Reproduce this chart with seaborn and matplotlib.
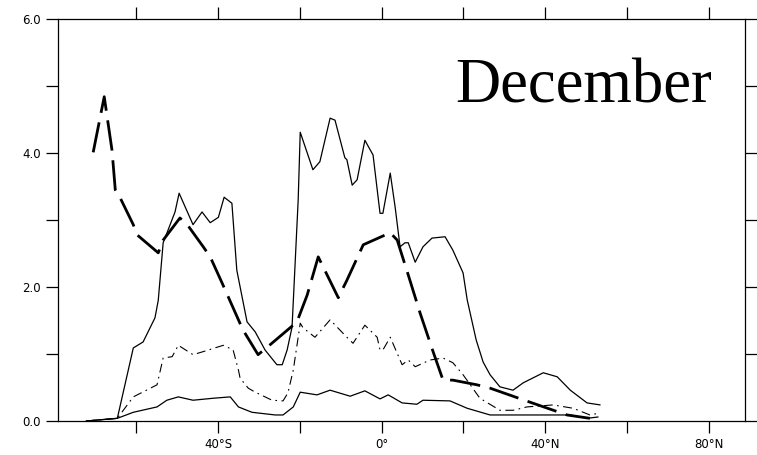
import matplotlib
matplotlib.use("Agg")
import matplotlib.pyplot as plt
import seaborn as sns

# latitude (deg, negative = south) and values
lat_thick = [-70.5, -67.8, -65.9, -65.1, -63.9, -60.7, -59.8, -54.6, -53.4, -49.3, -47.5,
             -43.6, -41.9, -39.0, -35.0, -33.9, -30.2, -28.0, -22.4, -20.7, -18.2, -15.5,
             -10.6, -8.5, -4.5, 2.1, 3.8, 6.5, 9.4, 12.6, 15.0, 17.4, 23.3, 26.5, 36.3,
             45.3, 50.9]
val_thick = [4.01, 4.84, 4.04, 3.45, 3.33, 2.93, 2.78, 2.51, 2.70, 3.03, 2.93,
             2.60, 2.45, 2.06, 1.51, 1.36, 0.99, 1.10, 1.39, 1.48, 1.88, 2.45,
             1.84, 2.10, 2.63, 2.81, 2.70, 2.18, 1.61, 1.03, 0.61, 0.61, 0.54, 0.49, 0.28,
             0.09, 0.04]

lat_upper = [-72.2, -64.6, -60.7, -58.3, -55.4, -54.6, -53.4, -50.5, -49.5, -46.1, -43.9,
             -41.9, -39.9, -38.5, -36.6, -35.4, -32.9, -30.9, -28.5, -25.6, -24.3, -23.1,
             -21.9, -20.4, -19.9, -16.8, -15.1, -12.6, -11.4, -9.0, -8.5, -7.2, -6.0,
             -4.1, -2.1, -0.4, 0.3, 2.1, 3.3, 4.5, 5.7, 6.5, 8.2, 10.1, 12.3, 15.5, 17.4,
             19.9, 20.9, 23.1, 24.8, 26.5, 28.9, 32.1, 34.6, 39.5, 42.9, 46.1, 50.2, 53.4]
val_upper = [0.0, 0.04, 1.09, 1.18, 1.54, 1.80, 2.66, 3.12, 3.40, 2.93, 3.12,
             2.96, 3.04, 3.34, 3.25, 2.25, 1.48, 1.33, 1.06, 0.84, 0.84, 1.06,
             1.40, 3.30, 4.31, 3.75, 3.87, 4.52, 4.49, 3.93, 3.90, 3.52, 3.60,
             4.19, 3.97, 3.10, 3.10, 3.70, 3.19, 2.60, 2.66, 2.66, 2.37, 2.60, 2.73, 2.75, 2.55,
             2.21, 1.81, 1.21, 0.88, 0.69, 0.51, 0.46, 0.57, 0.72, 0.66, 0.46, 0.27, 0.24]

lat_dashdot = [-72.2, -64.6, -60.7, -54.9, -53.4, -51.2, -49.7, -46.1, -43.9, -38.7, -36.3,
               -35.0, -34.6, -32.6, -30.9, -28.5, -26.8, -24.1, -22.9, -21.6, -20.4, -19.9,
               -19.2, -16.3, -12.6, -8.5, -7.0, -4.1, -1.1, -0.4, 0.3, 2.1, 5.0, 6.5, 8.2,
               11.8, 15.0, 17.4, 19.9, 24.0, 28.9, 32.1, 35.5, 41.9, 46.8, 50.9, 53.4]
val_dashdot = [0.0, 0.04, 0.36, 0.54, 0.94, 0.96, 1.13, 0.99, 1.03, 1.13, 1.06,
               0.76, 0.64, 0.49, 0.43, 0.36, 0.31, 0.30, 0.42, 0.76, 1.25, 1.46,
               1.39, 1.25, 1.51, 1.25, 1.16, 1.43, 1.25, 1.06, 1.06, 1.25, 0.84, 0.91, 0.81,
               0.91, 0.94, 0.87, 0.69, 0.34, 0.16, 0.16, 0.21, 0.24, 0.19, 0.09, 0.12]

lat_lower = [-72.2, -64.6, -60.7, -54.9, -52.5, -49.7, -46.1, -41.1, -37.0, -35.0, -31.7,
             -26.0, -24.1, -21.6, -19.9, -15.8, -12.6, -7.7, -4.1, -0.4, 1.6, 5.0, 8.6,
             10.1, 16.7, 20.9, 26.5, 33.8, 46.1, 50.2, 52.9]
val_lower = [0.0, 0.04, 0.13, 0.21, 0.31, 0.36, 0.31, 0.34, 0.36, 0.21, 0.13,
             0.09, 0.09, 0.21, 0.43, 0.39, 0.46, 0.37, 0.45, 0.33, 0.39, 0.27, 0.25,
             0.31, 0.30, 0.19, 0.09, 0.09, 0.09, 0.04, 0.06]

xticks = [-60, -40, -20, 0, 20, 40, 60, 80]
xticklabels = ["", "40°S", "", "0°", "", "40°N", "", "80°N"]
yticks = [0, 1, 2, 3, 4, 5, 6]
yticklabels = ["0.0", "", "2.0", "", "4.0", "", "6.0"]

sns.set_style("ticks")
plt.rcParams['font.family'] = ['DejaVu Sans']
plt.rcParams['text.color'] = 'black'
plt.rcParams['xtick.color'] = 'black'
plt.rcParams['ytick.color'] = 'black'

fig = plt.figure(figsize=(7.57, 4.55), dpi=100)
ax = fig.add_axes([58 / 757, 1 - 421 / 455, (745 - 58) / 757, (421 - 19) / 455])

sns.lineplot(x=lat_upper, y=val_upper, ax=ax, color="black", linewidth=0.9,
             sort=False, estimator=None)
sns.lineplot(x=lat_lower, y=val_lower, ax=ax, color="black", linewidth=0.9,
             sort=False, estimator=None)
sns.lineplot(x=lat_dashdot, y=val_dashdot, ax=ax, color="black", linewidth=0.8,
             linestyle=(0, (8, 4, 1.5, 4)), sort=False, estimator=None)
sns.lineplot(x=lat_thick, y=val_thick, ax=ax, color="black", linewidth=2.0,
             linestyle=(0, (11, 3.5)), sort=False, estimator=None)

ax.set_xlim(-79.1, 88.8)
ax.set_ylim(0, 6)
ax.set_xticks(xticks)
ax.set_xticklabels(xticklabels)
ax.set_yticks(yticks)
ax.set_yticklabels(yticklabels)
ax.tick_params(axis="both", direction="out", length=8.5, width=0.9, color="black",
               labelcolor="black", labelsize=8.5, pad=4, top=True, right=True)
for s in ax.spines.values():
    s.set_visible(True)
    s.set_linewidth(0.9)
    s.set_color("black")
ax.set_xlabel("")
ax.set_ylabel("")

ax.text(80.8, 4.75, "December", ha="right", va="baseline", color="black",
        fontsize=45, family=["Liberation Serif", "DejaVu Serif"])

fig.savefig("out.png", dpi=100, facecolor="white")
